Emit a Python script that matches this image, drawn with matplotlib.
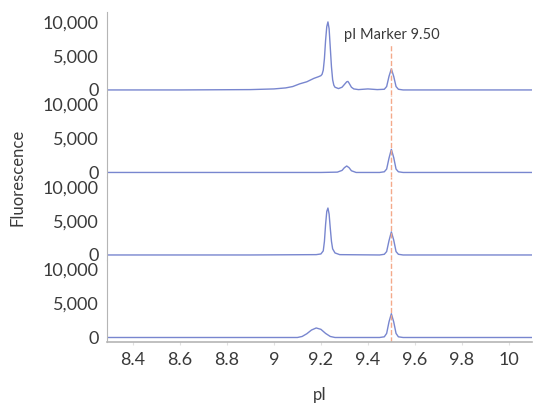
import matplotlib.pyplot as plt

plt.rcParams['font.family'] = ['Lato', 'DejaVu Sans']

# trace 1 (top)
pi_1 = [8.29, 8.6, 8.9, 9.0, 9.05, 9.08, 9.11, 9.14, 9.17, 9.19, 9.2, 9.205, 9.21, 9.215,
        9.22, 9.225, 9.23, 9.235, 9.24, 9.245, 9.25, 9.255, 9.26, 9.275, 9.29, 9.3, 9.31,
        9.315, 9.32, 9.33, 9.34, 9.36, 9.4, 9.44, 9.47, 9.48, 9.49, 9.5, 9.51, 9.52, 9.53,
        9.55, 9.8, 10.1]
fl_1 = [0, 0, 50, 150, 300, 500, 900, 1200, 1700, 1950, 2100, 2300, 2900, 4600,
        7300, 9300, 10000, 9000, 6200, 3400, 1500, 700, 400, 200, 400, 800, 1200,
        1250, 1000, 400, 150, 50, 150, 50, 100, 500, 2000, 3100, 2000, 500, 100,
        0, 0, 0]

# trace 2
pi_2 = [8.29, 8.8, 9.2, 9.27, 9.29, 9.3, 9.31, 9.32, 9.33, 9.35, 9.45, 9.47, 9.48, 9.49,
        9.5, 9.51, 9.52, 9.53, 9.55, 10.1]
fl_2 = [0, 0, 0, 50, 300, 700, 950, 700, 250, 0, 0, 100, 500, 2100,
        3400, 2200, 500, 100, 0, 0]

# trace 3
pi_3 = [8.29, 8.9, 9.18, 9.2, 9.21, 9.215, 9.22, 9.225, 9.23, 9.235, 9.24, 9.245, 9.25,
        9.26, 9.28, 9.45, 9.47, 9.48, 9.49, 9.5, 9.51, 9.52, 9.53, 9.55, 10.1]
fl_3 = [0, 0, 50, 150, 600, 2000, 4500, 6400, 6900, 6000, 3900, 2000, 900,
        300, 50, 0, 100, 500, 2100, 3400, 2200, 500, 100, 0, 0]

# trace 4 (bottom)
pi_4 = [8.29, 8.9, 9.1, 9.12, 9.14, 9.16, 9.18, 9.2, 9.22, 9.24, 9.26, 9.45, 9.47, 9.48,
        9.49, 9.5, 9.51, 9.52, 9.53, 9.55, 10.1]
fl_4 = [0, 0, 0, 150, 550, 1100, 1400, 1200, 600, 150, 0, 0, 100, 600,
        2300, 3500, 2300, 600, 100, 0, 0]

traces = [(pi_1, fl_1), (pi_2, fl_2), (pi_3, fl_3), (pi_4, fl_4)]

x_ticks = [8.4, 8.6, 8.8, 9.0, 9.2, 9.4, 9.6, 9.8, 10.0]
x_labels = ['8.4', '8.6', '8.8', '9', '9.2', '9.4', '9.6', '9.8', '10']
y_ticks = [0, 5000, 10000]
y_labels = ['0', '5,000', '10,000']
marker_pi = 9.50

line_color = '#7886cf'
marker_color = '#f4a98a'
text_color = '#3a3a3a'
spine_color = '#b5b5b5'

fig, axes = plt.subplots(4, 1, sharex=True, figsize=(5.36, 4.04), dpi=100)
fig.subplots_adjust(left=0.2, right=0.993, top=0.970, bottom=0.153, hspace=0)

for i, ax in enumerate(axes):
    x, y = traces[i]
    ax.plot(x, y, color=line_color, linewidth=1.0)
    ax.set_ylim(-690, 11440)
    ax.set_xlim(8.29, 10.1)
    ax.set_yticks(y_ticks)
    ax.set_yticklabels(y_labels)
    ax.tick_params(axis='y', length=0, pad=6, labelsize=13, labelcolor=text_color)
    for s in ['top', 'right']:
        ax.spines[s].set_visible(False)
    ax.spines['left'].set_color(spine_color)
    if i < 3:
        ax.spines['bottom'].set_visible(False)
        ax.tick_params(axis='x', length=0)
    else:
        ax.spines['bottom'].set_color(spine_color)
        ax.spines['bottom'].set_linewidth(1.2)
    if i == 0:
        ax.axvline(marker_pi, ymax=0.6, color=marker_color, linestyle='--', linewidth=1)
        ax.text(marker_pi, 0.72, 'pI Marker 9.50', transform=ax.get_xaxis_transform(),
                ha='center', va='center', fontsize=10.5, color=text_color)
    else:
        ax.axvline(marker_pi, color=marker_color, linestyle='--', linewidth=1)

bottom = axes[-1]
bottom.set_xticks(x_ticks)
bottom.set_xticklabels(x_labels)
bottom.tick_params(axis='x', length=2, color='#e0e0e0', pad=5, labelsize=13,
                   labelcolor=text_color)
bottom.set_xlabel('pI', fontsize=12, color=text_color, labelpad=14)

fig.text(0.032, 0.56, 'Fluorescence', rotation=90, ha='center', va='center',
         fontsize=12, color=text_color)

plt.savefig('out.png', dpi=100)
